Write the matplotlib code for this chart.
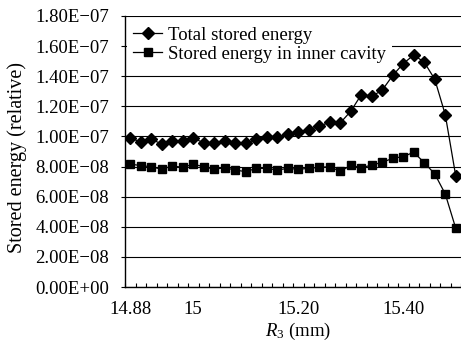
import matplotlib
matplotlib.use('Agg')
import matplotlib.pyplot as plt
from matplotlib.ticker import FixedLocator, FixedFormatter, NullFormatter

plt.rcParams['font.family'] = ['Liberation Serif', 'DejaVu Serif']
plt.rcParams['mathtext.fontset'] = 'custom'
plt.rcParams['mathtext.rm'] = 'Liberation Serif'
plt.rcParams['mathtext.it'] = 'Liberation Serif:italic'

# R3 categories (mm)
r3 = [14.88, 14.90, 14.92, 14.94, 14.96, 14.98, 15.00, 15.02,
      15.04, 15.06, 15.08, 15.10, 15.12, 15.14, 15.16, 15.18,
      15.20, 15.22, 15.24, 15.26, 15.28, 15.30, 15.32, 15.34,
      15.36, 15.38, 15.40, 15.42, 15.44, 15.46, 15.48, 15.50]

# stored energy, relative (units of 1e-7)
total = [0.988, 0.965, 0.981, 0.950, 0.972, 0.972, 0.988, 0.958,
         0.955, 0.972, 0.955, 0.954, 0.981, 0.999, 0.999, 1.014,
         1.027, 1.043, 1.069, 1.094, 1.090, 1.167, 1.277, 1.266,
         1.308, 1.405, 1.484, 1.541, 1.493, 1.380, 1.145, 0.737]
inner = [0.817, 0.806, 0.799, 0.782, 0.804, 0.795, 0.815, 0.799,
         0.782, 0.792, 0.777, 0.766, 0.788, 0.788, 0.777, 0.788,
         0.782, 0.788, 0.795, 0.799, 0.768, 0.808, 0.792, 0.810,
         0.828, 0.855, 0.866, 0.895, 0.826, 0.751, 0.618, 0.390]

label_vals = [14.88, 15.00, 15.20, 15.40]
label_text = ['14.88', '15', '15.20', '15.40']

y_ticks = [0.0, 0.2, 0.4, 0.6, 0.8, 1.0, 1.2, 1.4, 1.6, 1.8]
y_labels = ['0.00E+00', '2.00E\u221208', '4.00E\u221208', '6.00E\u221208',
            '8.00E\u221208', '1.00E\u221207', '1.20E\u221207', '1.40E\u221207',
            '1.60E\u221207', '1.80E\u221207']

W, H = 461, 345
fig = plt.figure(figsize=(W / 100, H / 100), dpi=100)
ax = fig.add_axes([125 / W, 1 - 287 / H, 336 / W, 271 / H])

x = list(range(len(r3)))
y_total = [v * 1e-7 for v in total]
y_inner = [v * 1e-7 for v in inner]

ax.plot(x, y_total, color='black', lw=0.9, marker='D', ms=6.3,
        label='Total stored energy', zorder=3)
ax.plot(x, y_inner, color='black', lw=0.9, marker='s', ms=6.0,
        label='Stored energy in inner cavity', zorder=3)

ax.set_xlim(-0.5, len(r3) - 0.5)
ax.set_ylim(0, 1.8e-7)

# y axis
ax.yaxis.set_major_locator(FixedLocator([t * 1e-7 for t in y_ticks]))
ax.yaxis.set_major_formatter(FixedFormatter(y_labels))
ax.tick_params(axis='y', direction='out', length=3, width=0.8, pad=8.5,
               labelsize=13.5)
ax.yaxis.grid(True, color='black', lw=0.8)
ax.set_axisbelow(True)

# x axis: labels at a few categories, small ticks between every category
pos = [r3.index(v) for v in label_vals]
ax.xaxis.set_major_locator(FixedLocator(pos))
ax.xaxis.set_major_formatter(FixedFormatter(label_text))
ax.xaxis.set_minor_locator(FixedLocator([i - 0.5 for i in range(len(r3) + 1)]))
ax.xaxis.set_minor_formatter(NullFormatter())
ax.tick_params(axis='x', which='major', length=0, pad=10, labelsize=13.5)
ax.tick_params(axis='x', which='minor', direction='in', length=3, width=0.8)

for s in ['top', 'right']:
    ax.spines[s].set_visible(False)
for s in ['left', 'bottom']:
    ax.spines[s].set_linewidth(1.0)

leg = ax.legend(loc='upper left', bbox_to_anchor=(0.005, 0.985), fontsize=13.5,
                frameon=True, fancybox=False, framealpha=1, edgecolor='none',
                handlelength=1.55, handletextpad=0.3, labelspacing=0.1,
                borderpad=0.35, borderaxespad=0.0)

fig.text(17 / W, 1 - 158 / H, 'Stored energy (relative)', rotation=90,
         ha='center', va='center', fontsize=14.5)
fig.text(298 / W, 1 - 331 / H, '$R_3$ (mm)', ha='center', va='center',
         fontsize=13.5)

fig.savefig('out.png', dpi=100)
